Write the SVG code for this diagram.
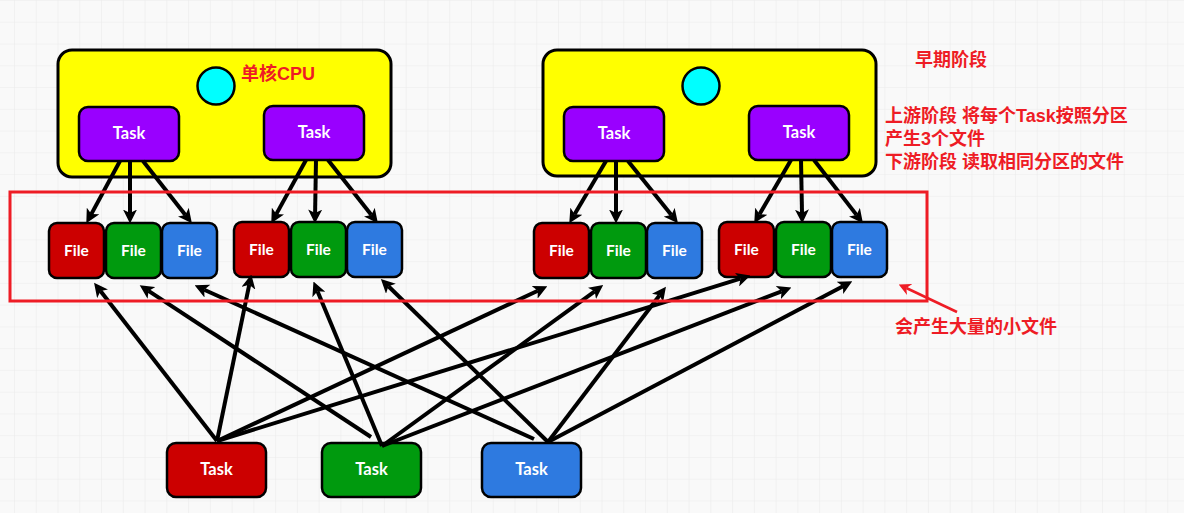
<svg xmlns="http://www.w3.org/2000/svg" width="1184" height="513" viewBox="0 0 1184 513">
<defs>
  <pattern id="grid" x="14" y="0" width="21.76" height="21.76" patternUnits="userSpaceOnUse">
    <path d="M0,0 V21.76 M0,0 H21.76" fill="none" stroke="#ececec" stroke-width="1.2"/>
  </pattern>
  <marker id="ah" viewBox="0 0 12 12" refX="3" refY="6" markerWidth="14" markerHeight="14" markerUnits="userSpaceOnUse" orient="auto">
    <path d="M0,0 L12,6 L0,12 L3,6 z" fill="#000"/>
  </marker>
  <marker id="rah" viewBox="0 0 10 10" refX="3" refY="5" markerWidth="12" markerHeight="12" markerUnits="userSpaceOnUse" orient="auto">
    <path d="M0,0 L10,5 L0,10 L3,5 z" fill="#ee1c25"/>
  </marker>
</defs>
<style>
  .cpu { fill: #ffff00; stroke: #000; stroke-width: 3; }
  .core { fill: #00ffff; stroke: #000; stroke-width: 2.5; }
  .task { stroke: #000; stroke-width: 2.5; }
  .purple { fill: #9900ff; }
  .red { fill: #cc0000; }
  .green { fill: #009a0e; }
  .blue { fill: #2e7ae0; }
  .lbl { fill: #fff; font-family: Lato, "Noto Sans", sans-serif; font-weight: bold; text-anchor: middle; dominant-baseline: central; }
  .tl { font-size: 16.5px; }
  .fl { font-size: 15.5px; }
  .note { fill: #ee1c25; font-family: "Liberation Sans", "Noto Sans CJK SC", sans-serif; font-weight: bold; font-size: 18px; }
  .conn path { fill: none; stroke: #000; stroke-width: 4; marker-end: url(#ah); }
</style>
<rect width="1184" height="513" fill="#f9f9f9"/>
<rect width="1184" height="513" fill="url(#grid)"/>

<g id="cpu1">
  <rect class="cpu" x="58" y="50" width="333" height="127" rx="14"/>
  <circle class="core" cx="216" cy="86" r="18.5"/>
  <text class="note" x="241" y="80">单核CPU</text>
</g>
<g id="cpu2">
  <rect class="cpu" x="543" y="50" width="333" height="126" rx="14"/>
  <circle class="core" cx="701" cy="86" r="18.5"/>
</g>

<g id="task-u1"><rect class="task purple" x="79" y="107" width="100" height="54" rx="9"/><text class="lbl tl" x="129" y="133">Task</text></g>
<g id="task-u2"><rect class="task purple" x="264" y="106" width="100" height="54" rx="9"/><text class="lbl tl" x="314" y="132">Task</text></g>
<g id="task-u3"><rect class="task purple" x="564" y="107" width="100" height="54" rx="9"/><text class="lbl tl" x="614" y="133">Task</text></g>
<g id="task-u4"><rect class="task purple" x="749" y="106" width="100" height="54" rx="9"/><text class="lbl tl" x="799" y="132">Task</text></g>

<g id="file-1r"><rect class="task red" x="49" y="223" width="55" height="55" rx="8"/><text class="lbl fl" x="76.5" y="250">File</text></g>
<g id="file-1g"><rect class="task green" x="106" y="223" width="55" height="55" rx="8"/><text class="lbl fl" x="133.5" y="250">File</text></g>
<g id="file-1b"><rect class="task blue" x="162" y="223" width="55" height="55" rx="8"/><text class="lbl fl" x="189.5" y="250">File</text></g>
<g id="file-2r"><rect class="task red" x="234" y="222" width="55" height="55" rx="8"/><text class="lbl fl" x="261.5" y="249">File</text></g>
<g id="file-2g"><rect class="task green" x="291" y="222" width="55" height="55" rx="8"/><text class="lbl fl" x="318.5" y="249">File</text></g>
<g id="file-2b"><rect class="task blue" x="347" y="222" width="55" height="55" rx="8"/><text class="lbl fl" x="374.5" y="249">File</text></g>
<g id="file-3r"><rect class="task red" x="534" y="223" width="55" height="55" rx="8"/><text class="lbl fl" x="561.5" y="250">File</text></g>
<g id="file-3g"><rect class="task green" x="591" y="223" width="55" height="55" rx="8"/><text class="lbl fl" x="618.5" y="250">File</text></g>
<g id="file-3b"><rect class="task blue" x="647" y="223" width="55" height="55" rx="8"/><text class="lbl fl" x="674.5" y="250">File</text></g>
<g id="file-4r"><rect class="task red" x="719" y="222" width="55" height="55" rx="8"/><text class="lbl fl" x="746.5" y="249">File</text></g>
<g id="file-4g"><rect class="task green" x="776" y="222" width="55" height="55" rx="8"/><text class="lbl fl" x="803.5" y="249">File</text></g>
<g id="file-4b"><rect class="task blue" x="832" y="222" width="55" height="55" rx="8"/><text class="lbl fl" x="859.5" y="249">File</text></g>

<g id="task-d1"><rect class="task red" x="167" y="443" width="99" height="54" rx="9"/><text class="lbl tl" x="216.5" y="469">Task</text></g>
<g id="task-d2"><rect class="task green" x="322" y="443" width="99" height="54" rx="9"/><text class="lbl tl" x="371.5" y="469">Task</text></g>
<g id="task-d3"><rect class="task blue" x="482" y="443" width="99" height="54" rx="9"/><text class="lbl tl" x="531.5" y="469">Task</text></g>

<g id="connectors" class="conn">
  <path d="M120,161 L91.3,214.1"/>
  <path d="M130,161 L130,213"/>
  <path d="M143,161 L185.4,214.9"/>
  <path d="M306,160 L276.3,214.1"/>
  <path d="M316,160 L315.1,213"/>
  <path d="M328,160 L371.4,214.9"/>
  <path d="M606,161 L574.6,214.2"/>
  <path d="M616,161 L616,213"/>
  <path d="M628,161 L671.4,215"/>
  <path d="M791,160 L759.5,214.2"/>
  <path d="M801,160 L802,213"/>
  <path d="M814,160 L856.5,214.9"/>

  <path d="M217,441 L100.5,291.1"/>
  <path d="M217,441 L249.2,284.8"/>
  <path d="M217,441 L537.8,290.8"/>
  <path d="M217,441 L740.4,278.7"/>
  <path d="M371,437 L148.5,290.9"/>
  <path d="M382,446 L317.5,291.3"/>
  <path d="M382,446 L594.7,291.3"/>
  <path d="M382,446 L781.6,291.3"/>
  <path d="M534,439 L204.2,289.7"/>
  <path d="M548,442 L388.4,286.3"/>
  <path d="M548,442 L659.6,295.2"/>
  <path d="M548,442 L843,286.2"/>
</g>

<g id="highlight">
  <rect x="10" y="192" width="917" height="109" fill="none" stroke="#ee1c25" stroke-width="3"/>
  <path d="M957,312 L906.3,288" fill="none" stroke="#ee1c25" stroke-width="2.5" marker-end="url(#rah)"/>
  <text class="note" x="895" y="333">会产生大量的小文件</text>
</g>

<g id="notes">
  <text class="note" x="915" y="66">早期阶段</text>
  <text class="note" x="885" y="122">上游阶段 将每个Task按照分区</text>
  <text class="note" x="885" y="145">产生3个文件</text>
  <text class="note" x="885" y="168">下游阶段 读取相同分区的文件</text>
</g>
</svg>
